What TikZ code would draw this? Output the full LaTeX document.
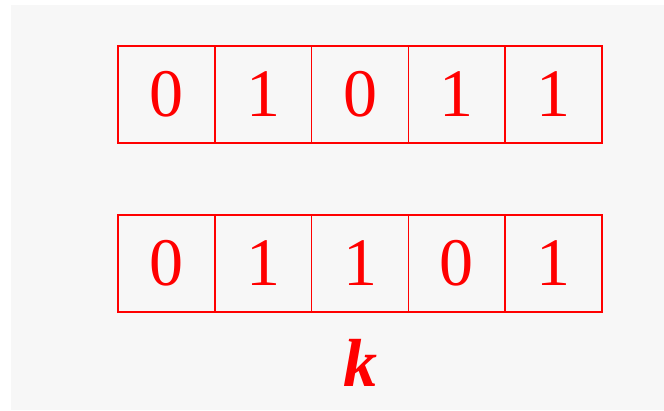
\documentclass[tikz,border=0pt]{standalone}
\usepackage{fontspec}
\setmainfont{Liberation Serif}
\usepackage{tikz}
\usetikzlibrary{positioning}
\definecolor{bitred}{RGB}{255,0,0}
\definecolor{bitbg}{RGB}{247,247,247}
\tikzset{
  bitcell/.style={
    draw=bitred, line width=1.5pt, text=bitred, outer sep=0pt,
    minimum width=96.8pt, minimum height=97pt, inner sep=0pt,
    font=\fontsize{68}{80}\selectfont
  },
  keyname/.style={text=bitred, font=\fontsize{68}{80}\selectfont\bfseries\itshape, inner sep=0pt}
}
\begin{document}
\begin{tikzpicture}[node distance=0pt]
  \useasboundingbox (0pt,0pt) rectangle (664pt,-411pt);
  \fill[bitbg] (11pt,-5pt) rectangle (664pt,-410pt);

  % first word
  \node[bitcell] (a1) at (166.4pt,-94.5pt) {0};
  \node[bitcell, right=of a1] (a2) {1};
  \node[bitcell, right=of a2] (a3) {0};
  \node[bitcell, right=of a3] (a4) {1};
  \node[bitcell, right=of a4] (a5) {1};

  % second word
  \node[bitcell] (b1) at (166.4pt,-263.5pt) {0};
  \node[bitcell, right=of b1] (b2) {1};
  \node[bitcell, right=of b2] (b3) {1};
  \node[bitcell, right=of b3] (b4) {0};
  \node[bitcell, right=of b4] (b5) {1};

  \node[keyname, below=75pt of b3.south, anchor=base] (key) {k};
\end{tikzpicture}
\end{document}
